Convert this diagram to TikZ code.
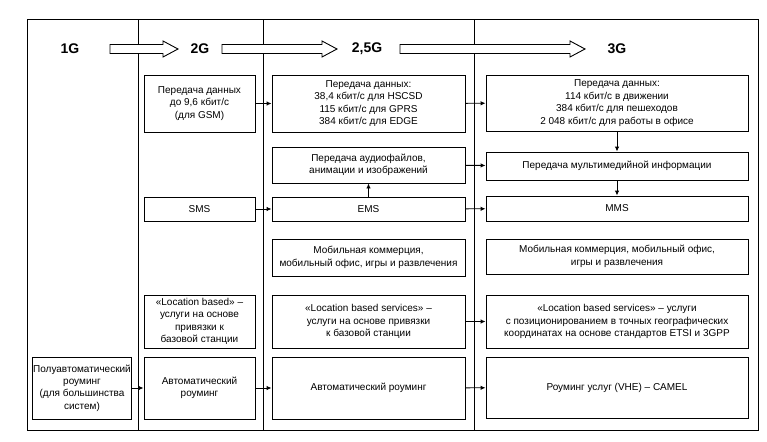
\documentclass[tikz,border=0pt]{standalone}
\usepackage{fontspec}
\setmainfont{Liberation Sans}
\usetikzlibrary{arrows.meta}
\begin{document}
\begin{tikzpicture}[x=1pt, y=-1pt,
cell/.style={rectangle, draw=black, line width=0.9pt, align=center, inner sep=1pt, font=\fontsize{10}{12.4}\selectfont},
col1/.style={cell, minimum width=98pt},
col2/.style={cell, minimum width=111pt},
col25/.style={cell, minimum width=193pt},
col3/.style={cell, minimum width=262pt},
gen/.style={font=\fontsize{14}{16}\selectfont\bfseries},
genarrow/.style={draw=black, line width=0.9pt, fill=white},
link/.style={-{Latex[length=5pt, width=4.5pt]}, line width=0.9pt},
]
\useasboundingbox (0,0) rectangle (767,441);
% frame and columns
\draw[line width=1pt] (27,20) rectangle (758,430);
\foreach \x in {138,263,474}
	\draw[line width=1pt] (\x,20) -- (\x,430);
% generations
\node[gen] (g1) at (70,49) {1G};
\node[gen] (g2) at (200,49) {2G};
\node[gen] (g25) at (367,49) {2,5G};
\node[gen] (g3) at (617,49) {3G};
\foreach \xa/\xb in {110/178, 222/337, 400/585}
	\draw[genarrow] (\xa,44.5) -- (\xb-15,44.5) -- (\xb-15,41) -- (\xb,49)
		-- (\xb-15,57) -- (\xb-15,53.5) -- (\xa,53.5) -- cycle;
% 1G
\node[col1, minimum height=62pt] (roam1) at (82,388) {Полуавтоматический\\роуминг\\(для большинства\\систем)};
% 2G
\node[col2, minimum height=57pt] (data2) at (199.5,103.5) {Передача данных\\до 9,6 кбит/с\\(для GSM)};
\node[col2, minimum height=24pt] (sms2) at (199.5,209) {SMS};
\node[col2, minimum height=53pt] (lbs2) at (199.5,321.5) {«Location based» –\\услуги на основе\\привязки к\\базовой станции};
\node[col2, minimum height=62pt] (roam2) at (199.5,388) {Автоматический\\роуминг};
% 2,5G
\node[col25, minimum height=57pt] (data25) at (368.5,103.5) {Передача данных:\\38,4 кбит/с для HSCSD\\115 кбит/с для GPRS\\384 кбит/с для EDGE};
\node[col25, minimum height=36pt] (audio25) at (368.5,165) {Передача аудиофайлов,\\анимации и изображений};
\node[col25, minimum height=24pt] (ems25) at (368.5,209) {EMS};
\node[col25, minimum height=37pt] (mob25) at (368.5,257.5) {Мобильная коммерция,\\мобильный офис, игры и развлечения};
\node[col25, minimum height=53pt] (lbs25) at (368.5,321.5) {«Location based services» –\\услуги на основе привязки\\к базовой станции};
\node[col25, minimum height=62pt] (roam25) at (368.5,388) {Автоматический роуминг};
% 3G
\node[col3, minimum height=56pt] (data3) at (617,103) {Передача данных:\\114 кбит/с в движении\\384 кбит/с для пешеходов\\2 048 кбит/с для работы в офисе};
\node[col3, minimum height=28pt] (media3) at (617,166) {Передача мультимедийной информации};
\node[col3, minimum height=25pt] (mms3) at (617,208.5) {MMS};
\node[col3, minimum height=35pt] (mob3) at (617,256.5) {Мобильная коммерция, мобильный офис,\\игры и развлечения};
\node[col3, minimum height=53pt] (lbs3) at (617,321.5) {«Location based services» – услуги\\с позиционированием в точных географических\\координатах на основе стандартов ETSI и 3GPP};
\node[col3, minimum height=61pt] (roam3) at (617,387.5) {Роуминг услуг (VHE) – CAMEL};
% links
\draw[link] (data2) -- (data25);
\draw[link] (data25) -- (data3);
\draw[link] (data3) -- (media3);
\draw[link] (audio25) -- (media3);
\draw[link] (ems25) -- (audio25);
\draw[link] (media3) -- (mms3);
\draw[link] (sms2) -- (ems25);
\draw[link] (ems25) -- (mms3);
\draw[link] (lbs25) -- (lbs3);
\draw[link] (roam1) -- (roam2);
\draw[link] (roam2) -- (roam25);
\draw[link] (roam25) -- (roam3);
\end{tikzpicture}
\end{document}
